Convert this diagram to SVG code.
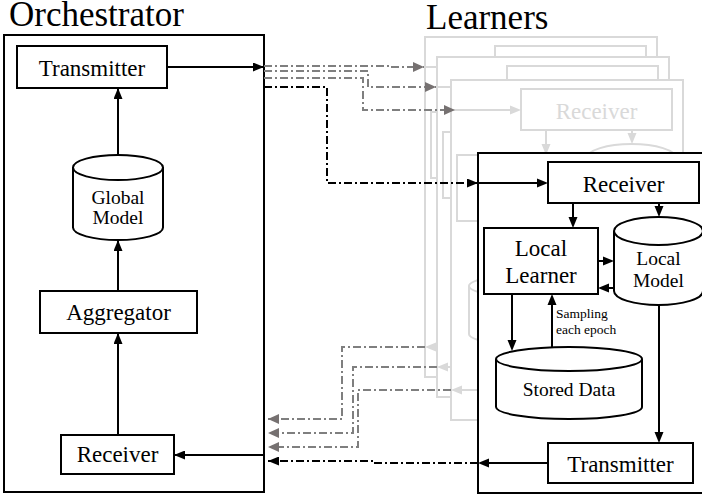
<svg xmlns="http://www.w3.org/2000/svg" xmlns:xlink="http://www.w3.org/1999/xlink" width="702" height="496" viewBox="0 0 702 496" style="color:#000">
<style>
.box{fill:#fff;stroke:currentColor;stroke-width:2}
.ln{fill:none;stroke:currentColor;stroke-width:2}
.ah{fill:currentColor;stroke:none}
.t{font-family:'Liberation Serif','Times New Roman',Times,'DejaVu Serif',serif;fill:currentColor;text-anchor:middle;font-size:23px}
.tc{font-size:19.5px}
.ts{font-size:13.5px;text-anchor:start}
.title{font-family:'Liberation Serif','Times New Roman',Times,'DejaVu Serif',serif;font-size:35px;fill:#000}
.k{fill:none;stroke:#000;stroke-width:2}
.dk{fill:none;stroke:#000;stroke-width:2;stroke-dasharray:8 3 2 3}
.dg{fill:none;stroke:#7f7f7f;stroke-width:2;stroke-dasharray:8 3 2 3}
</style>
<defs>
<marker id="arrK" markerUnits="userSpaceOnUse" markerWidth="11" markerHeight="9" refX="11" refY="4.5" orient="auto"><path d="M0,0 L11,4.5 L0,9 Z" fill="#000"/></marker>
<marker id="arrG" markerUnits="userSpaceOnUse" markerWidth="11" markerHeight="10" refX="11" refY="5" orient="auto"><path d="M0,0 L11,5 L0,10 Z" fill="#767171"/></marker>
</defs>
<rect width="702" height="496" fill="#fff"/>

<text class="title" x="9" y="26" font-family="Liberation Serif, serif">Orchestrator</text>
<text class="title" x="426" y="29" font-family="Liberation Serif, serif">Learners</text>

<!-- Background learner copies -->
<g id="learner-copies">
<use xlink:href="#learner" href="#learner" transform="translate(-53,-116)" style="color:#d9d9d9"/>
<use xlink:href="#learner" href="#learner" transform="translate(-41,-96)" style="color:#d9d9d9"/>
<use xlink:href="#learner" href="#learner" transform="translate(-27,-73)" style="color:#d9d9d9"/>
</g>

<!-- Orchestrator -->
<g id="orchestrator">
<rect class="box" x="4" y="35" width="260" height="457"/>
</g>
<g id="orch-transmitter"><rect class="box" x="17" y="46" width="150" height="42"/><text class="t" x="92" y="75.5">Transmitter</text></g>
<g id="orch-global-model">
<path class="box" d="M73,167.5 A45,12.5 0 0 1 163,167.5 V227.5 A45,12.5 0 0 1 73,227.5 Z"/>
<path class="ln" d="M73,167.5 A45,12.5 0 0 0 163,167.5"/>
<text class="t tc" x="118" y="204">Global</text><text class="t tc" x="118" y="224">Model</text>
</g>
<g id="orch-aggregator"><rect class="box" x="40" y="291" width="157" height="42"/><text class="t" x="118.5" y="320">Aggregator</text></g>
<g id="orch-receiver"><rect class="box" x="61" y="435" width="113" height="39"/><text class="t" x="117.5" y="462">Receiver</text></g>

<!-- Front learner -->
<g id="learner" transform="translate(478,153)">
<rect class="box" x="0" y="0" width="232" height="340"/>
<g id="learner-receiver"><rect class="box" x="70" y="9" width="151" height="41"/><text class="t" x="145.5" y="38.5">Receiver</text></g>
<g id="learner-local-learner"><rect class="box" x="6" y="75" width="114" height="66"/><text class="t" x="63" y="103">Local</text><text class="t" x="63" y="130">Learner</text></g>
<g id="learner-local-model">
<path class="box" d="M136,78 A44.5,14 0 0 1 225,78 V138 A44.5,14 0 0 1 136,138 Z"/>
<path class="ln" d="M136,78 A44.5,14 0 0 0 225,78"/>
<text class="t tc" x="180.5" y="112">Local</text><text class="t tc" x="180.5" y="134">Model</text>
</g>
<g id="learner-stored-data">
<path class="box" d="M18,206 A73,12 0 0 1 164,206 V254 A73,12 0 0 1 18,254 Z"/>
<path class="ln" d="M18,206 A73,12 0 0 0 164,206"/>
<text class="t tc" x="91" y="243">Stored Data</text>
</g>
<g id="learner-transmitter"><rect class="box" x="70" y="290" width="145" height="40"/><text class="t" x="142.5" y="318.5">Transmitter</text></g>
<g id="learner-connectors">
<path class="ln" d="M0,30 H60"/><path class="ah" d="M59,25.5 L70,30 L59,34.5 Z"/>
<path class="ln" d="M95,50 V65"/><path class="ah" d="M90.5,64 L95,75 L99.5,64 Z"/>
<path class="ln" d="M181,50 V54"/><path class="ah" d="M176.5,53 L181,64 L185.5,53 Z"/>
<path class="ln" d="M120,108 H126"/><path class="ah" d="M125,103.5 L136,108 L125,112.5 Z"/>
<path class="ln" d="M136,135 H130"/><path class="ah" d="M131,130.5 L120,135 L131,139.5 Z"/>
<path class="ln" d="M34,141 V188"/><path class="ah" d="M29.5,187 L34,198 L38.5,187 Z"/>
<path class="ln" d="M74,194 V151"/><path class="ah" d="M69.5,152 L74,141 L78.5,152 Z"/>
<text class="t ts" x="78" y="165">Sampling</text><text class="t ts" x="78" y="181">each epoch</text>
<path class="ln" d="M181,152 V280"/><path class="ah" d="M176.5,279 L181,290 L185.5,279 Z"/>
<path class="ln" d="M70,310 H10"/><path class="ah" d="M11,305.5 L0,310 L11,314.5 Z"/>
</g>
</g>

<!-- Connectors -->
<g id="connectors">
<path class="k" d="M167,67 H264" marker-end="url(#arrK)"/>
<path class="k" d="M118,155 V88" marker-end="url(#arrK)"/>
<path class="k" d="M118,291 V240" marker-end="url(#arrK)"/>
<path class="k" d="M118,435 V333" marker-end="url(#arrK)"/>
<path class="k" d="M264,455 H174" marker-end="url(#arrK)"/>
<path class="dg" d="M264,66 H388 V67 H424" marker-end="url(#arrG)"/>
<path class="dg" d="M264,71 H368 V87 H436" marker-end="url(#arrG)"/>
<path class="dg" d="M264,78 H363 V110 H455" marker-end="url(#arrG)"/>
<path class="dk" d="M264,87 H327 V183 H478" marker-end="url(#arrK)"/>
<path class="dg" d="M425,347 H342 V419 H268" marker-end="url(#arrG)"/>
<path class="dg" d="M437,367 H353 V433 H268" marker-end="url(#arrG)"/>
<path class="dg" d="M451,390 H358 V447 H268" marker-end="url(#arrG)"/>
<path class="dk" d="M478,463 H372 V461 H268" marker-end="url(#arrK)"/>
</g>
</svg>
